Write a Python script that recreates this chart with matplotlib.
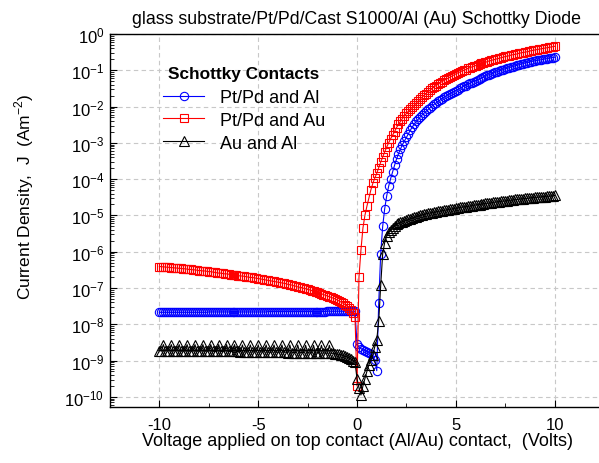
import numpy as np
import matplotlib
matplotlib.use('Agg')
import matplotlib.pyplot as plt
from matplotlib.ticker import MultipleLocator, LogLocator, NullFormatter

plt.rcParams['font.family'] = ['Liberation Sans', 'DejaVu Sans']
plt.rcParams['mathtext.fontset'] = 'custom'
plt.rcParams['mathtext.rm'] = 'Liberation Sans'
plt.rcParams['axes.unicode_minus'] = False

# voltage sweep, 0.1 V step
voltage = np.round(np.arange(-100, 101) * 0.1, 1)

# log10 of current density (A m^-2)
# Pt/Pd and Al
blue_neg = [-7.67, -7.67, -7.67, -7.67, -7.67, -7.67, -7.67, -7.67, -7.67, -7.67,
            -7.67, -7.67, -7.67, -7.67, -7.67, -7.67, -7.67, -7.67, -7.67, -7.67,
            -7.67, -7.67, -7.67, -7.67, -7.67, -7.66, -7.66, -7.66, -7.66, -7.66,
            -7.66, -7.66, -7.66, -7.66, -7.66, -7.66, -7.66, -7.66, -7.66, -7.66,
            -7.66, -7.66, -7.66, -7.66, -7.66, -7.66, -7.66, -7.66, -7.66, -7.66,
            -7.66, -7.66, -7.66, -7.66, -7.66, -7.65, -7.65, -7.65, -7.65, -7.65,
            -7.65, -7.65, -7.65, -7.65, -7.65, -7.65, -7.65, -7.65, -7.65, -7.65,
            -7.65, -7.65, -7.65, -7.65, -7.65, -7.65, -7.65, -7.65, -7.65, -7.65,
            -7.65, -7.65, -7.65, -7.65, -7.65, -7.64, -7.64, -7.64, -7.64, -7.64,
            -7.64, -7.64, -7.64, -7.64, -7.64, -7.64, -7.64, -7.64, -7.64, -7.64]
blue_pos = [-8.55,
            -8.62, -8.67, -8.70, -8.73, -8.76, -8.79, -8.83, -8.88, -8.98, -9.28,
            -7.40, -6.05, -5.30, -4.82, -4.47, -4.20, -3.99, -3.80, -3.62, -3.45,
            -3.30, -3.17, -3.05, -2.95, -2.85, -2.75, -2.65, -2.56, -2.48, -2.41,
            -2.35, -2.29, -2.23, -2.18, -2.13, -2.08, -2.03, -1.98, -1.94, -1.90,
            -1.86, -1.82, -1.78, -1.74, -1.71, -1.68, -1.65, -1.62, -1.59, -1.56,
            -1.53, -1.50, -1.47, -1.44, -1.42, -1.39, -1.36, -1.34, -1.31, -1.29,
            -1.26, -1.24, -1.21, -1.19, -1.17, -1.14, -1.12, -1.10, -1.08, -1.06,
            -1.04, -1.02, -1.00, -0.98, -0.96, -0.95, -0.93, -0.91, -0.90, -0.88,
            -0.86, -0.85, -0.83, -0.82, -0.80, -0.79, -0.78, -0.76, -0.75, -0.74,
            -0.73, -0.72, -0.71, -0.70, -0.69, -0.68, -0.67, -0.66, -0.65, -0.64]

# Pt/Pd and Au
red_neg = [-6.41, -6.41, -6.42, -6.42, -6.43, -6.43, -6.44, -6.44, -6.45, -6.45,
           -6.46, -6.46, -6.47, -6.47, -6.48, -6.49, -6.49, -6.50, -6.50, -6.51,
           -6.52, -6.52, -6.53, -6.53, -6.54, -6.55, -6.55, -6.56, -6.57, -6.58,
           -6.59, -6.59, -6.60, -6.61, -6.61, -6.62, -6.63, -6.64, -6.64, -6.65,
           -6.66, -6.67, -6.67, -6.68, -6.69, -6.70, -6.71, -6.71, -6.72, -6.73,
           -6.74, -6.75, -6.76, -6.77, -6.78, -6.79, -6.80, -6.81, -6.82, -6.83,
           -6.84, -6.85, -6.86, -6.87, -6.88, -6.90, -6.91, -6.92, -6.94, -6.95,
           -6.97, -6.98, -6.99, -7.01, -7.02, -7.04, -7.05, -7.07, -7.09, -7.10,
           -7.12, -7.14, -7.16, -7.18, -7.20, -7.22, -7.24, -7.26, -7.28, -7.30,
           -7.33, -7.36, -7.39, -7.42, -7.46, -7.50, -7.55, -7.62, -7.70, -7.80]
red_pos = [-9.70,
           -6.70, -5.95, -5.35, -5.00, -4.75, -4.52, -4.30, -4.12, -3.97, -3.84,
           -3.68, -3.53, -3.39, -3.25, -3.12, -3.00, -2.89, -2.79, -2.69, -2.58,
           -2.49, -2.41, -2.33, -2.26, -2.19, -2.13, -2.07, -2.01, -1.96, -1.90,
           -1.85, -1.79, -1.74, -1.69, -1.64, -1.59, -1.55, -1.50, -1.46, -1.42,
           -1.38, -1.35, -1.31, -1.28, -1.25, -1.22, -1.19, -1.16, -1.13, -1.10,
           -1.07, -1.05, -1.02, -1.00, -0.98, -0.95, -0.93, -0.91, -0.89, -0.87,
           -0.85, -0.83, -0.81, -0.79, -0.78, -0.76, -0.74, -0.73, -0.71, -0.70,
           -0.68, -0.67, -0.65, -0.64, -0.62, -0.61, -0.60, -0.58, -0.57, -0.56,
           -0.55, -0.53, -0.52, -0.51, -0.50, -0.49, -0.48, -0.46, -0.45, -0.44,
           -0.43, -0.42, -0.41, -0.40, -0.39, -0.38, -0.37, -0.36, -0.35, -0.34]

# Au and Al
black_neg = [-8.73, -8.73, -8.56, -8.73, -8.73, -8.73, -8.56, -8.73, -8.73, -8.73,
             -8.56, -8.74, -8.74, -8.74, -8.56, -8.74, -8.74, -8.74, -8.56, -8.74,
             -8.74, -8.74, -8.56, -8.74, -8.74, -8.74, -8.56, -8.74, -8.75, -8.75,
             -8.56, -8.75, -8.75, -8.75, -8.56, -8.75, -8.75, -8.75, -8.56, -8.75,
             -8.75, -8.76, -8.57, -8.76, -8.76, -8.76, -8.57, -8.76, -8.76, -8.76,
             -8.57, -8.76, -8.76, -8.76, -8.57, -8.77, -8.77, -8.77, -8.57, -8.77,
             -8.77, -8.77, -8.57, -8.77, -8.77, -8.78, -8.57, -8.78, -8.78, -8.78,
             -8.57, -8.78, -8.78, -8.78, -8.58, -8.78, -8.79, -8.79, -8.58, -8.79,
             -8.79, -8.79, -8.58, -8.79, -8.79, -8.80, -8.58, -8.80, -8.80, -8.81,
             -8.82, -8.83, -8.84, -8.86, -8.88, -8.90, -8.93, -8.96, -9.00, -9.05]
black_pos = [-9.50,
             -9.75, -9.95, -9.70, -9.50, -9.30, -9.12, -8.98, -8.84, -8.62, -8.43,
             -7.90, -6.92, -6.05, -5.75, -5.58, -5.47, -5.40, -5.34, -5.29, -5.25,
             -5.22, -5.19, -5.17, -5.15, -5.13, -5.11, -5.09, -5.07, -5.05, -5.03,
             -5.01, -5.00, -4.98, -4.97, -4.95, -4.94, -4.93, -4.92, -4.91, -4.90,
             -4.89, -4.88, -4.87, -4.86, -4.85, -4.84, -4.83, -4.82, -4.81, -4.80,
             -4.79, -4.78, -4.77, -4.76, -4.76, -4.75, -4.74, -4.73, -4.72, -4.71,
             -4.70, -4.70, -4.69, -4.68, -4.67, -4.66, -4.66, -4.65, -4.64, -4.63,
             -4.62, -4.62, -4.61, -4.60, -4.60, -4.59, -4.58, -4.58, -4.57, -4.56,
             -4.56, -4.55, -4.54, -4.54, -4.53, -4.53, -4.52, -4.51, -4.51, -4.50,
             -4.50, -4.49, -4.49, -4.48, -4.48, -4.47, -4.47, -4.46, -4.46, -4.45]

J_blue = 10.0 ** np.array(blue_neg + blue_pos)
J_red = 10.0 ** np.array(red_neg + red_pos)
J_black = 10.0 ** np.array(black_neg + black_pos)

fig = plt.figure(figsize=(5.99, 4.64), dpi=100)
ax = fig.add_axes([110 / 599, 56 / 464, 494 / 599, 373 / 464])

ax.plot(voltage, J_blue, color='#0000ff', marker='o', ms=6, mfc='none', mew=0.8, lw=0.8,
        label='Pt/Pd and Al')
ax.plot(voltage, J_red, color='#ff0000', marker='s', ms=5.5, mfc='none', mew=0.8, lw=0.8,
        label='Pt/Pd and Au')
ax.plot(voltage, J_black, color='black', marker='^', ms=6.5, mfc='none', mew=0.8, lw=0.8,
        label='Au and Al')

ax.set_yscale('log')
ax.set_xlim(-12.5, 12.5)
ax.set_ylim(10 ** -10.28, 1)

ax.xaxis.set_major_locator(MultipleLocator(5))
ax.xaxis.set_minor_locator(MultipleLocator(2.5))
ax.yaxis.set_major_locator(LogLocator(base=10, numticks=20))
ax.yaxis.set_minor_locator(LogLocator(base=10, subs=np.arange(2, 10), numticks=20))
ax.yaxis.set_minor_formatter(NullFormatter())
ax.tick_params(which='both', direction='in', labelsize=12, top=False, right=False)
ax.tick_params(which='major', length=5, width=0.8)
ax.tick_params(which='minor', length=3, width=0.6)
ax.tick_params(axis='x', pad=7)
ax.tick_params(axis='y', pad=4)

ax.grid(True, which='major', ls=(0, (4, 3)), color='#c8c8c8', lw=0.8)
for s in ax.spines.values():
    s.set_linewidth(1.0)

ax.set_xlabel('Voltage applied on top contact (Al/Au) contact,  (Volts)', fontsize=13, labelpad=0)
ax.set_ylabel(r'Current Density,  J  (Am$^{\mathdefault{-2}}$)', fontsize=12.5)
ax.yaxis.set_label_coords(-0.15, 0.566)
ax.set_title('glass substrate/Pt/Pd/Cast S1000/Al (Au) Schottky Diode', fontsize=12.8, pad=8)

leg = ax.legend(loc='upper left', bbox_to_anchor=(0.107, 0.915), frameon=False,
                title='Schottky Contacts', title_fontproperties={'weight': 'bold', 'size': 12.4},
                fontsize=13, handlelength=2.3, handletextpad=0.85, labelspacing=0.32,
                borderaxespad=0, borderpad=0, numpoints=1)
leg._legend_box.sep = 6

fig.savefig('out.png', dpi=100)
